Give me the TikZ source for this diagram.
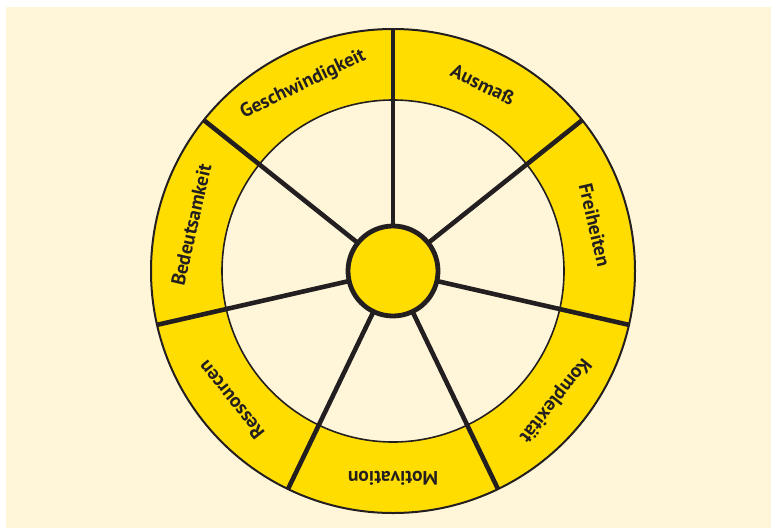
\documentclass[tikz,border=0pt]{standalone}
\usepackage{fontspec}
\setmainfont{PT Sans}
\usetikzlibrary{calc}
\definecolor{cream}{HTML}{FFF6DA}
\definecolor{wyellow}{HTML}{FFDD00}
\definecolor{ink}{HTML}{231F20}
\begin{document}
\begin{tikzpicture}[x=1pt,y=1pt,
  seglabel/.style={font=\bfseries\fontsize{19.5}{19.5}\selectfont, text=ink, inner sep=0pt},
  spoke/.style={draw=ink, line width=4.6pt},
]
\useasboundingbox (0,0) rectangle (771,-528);
\fill[white] (0,0) rectangle (771,-528);
\fill[cream] (6,-7) rectangle (771,-528);
\coordinate (c) at (393,-271);
\fill[wyellow] (c) circle (242);
\fill[cream] (c) circle (171);
\foreach \a in {90,38.571,-12.857,-64.286,-115.714,-167.143,141.429}{
  \draw[spoke] (c) -- ++(\a:242) coordinate (s\a);
}
\draw[ink, line width=2pt] (c) circle (242);
\draw[ink, line width=1.6pt] (c) circle (171);
\node[circle, fill=wyellow, draw=ink, line width=4.8pt, minimum size=90pt, inner sep=0pt] (hub) at (c) {};
\foreach \a/\t in {64.286/Ausmaß, 12.857/Freiheiten, -38.571/Komplexität, -90/Motivation, -141.429/Ressourcen, 167.143/Bedeutsamkeit, 115.714/Geschwindigkeit}{
  \node[seglabel, rotate=\a-90] (l\a) at ($(c)+(\a:207)$) {\t};
}
\end{tikzpicture}
\end{document}
